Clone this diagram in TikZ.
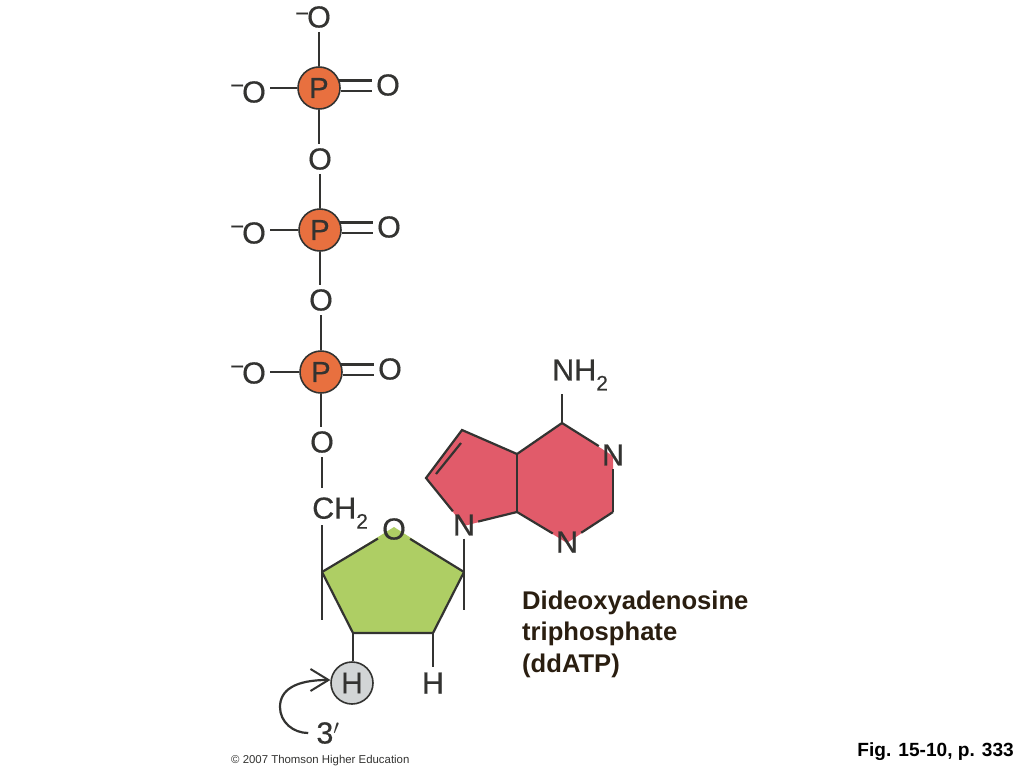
\documentclass[tikz,border=0pt]{standalone}
\usepackage{fontspec}
\setmainfont{Liberation Sans}
\newfontfamily\atomfont[FakeBold=0.4]{Liberation Sans}
\usepackage{tikz}
\usetikzlibrary{arrows.meta}
\definecolor{bondgray}{HTML}{333331}
\definecolor{phosorange}{HTML}{E8703F}
\definecolor{basered}{HTML}{E15B6A}
\definecolor{sugargreen}{HTML}{AECE64}
\definecolor{hgray}{HTML}{D2D5D6}
\definecolor{capbrown}{HTML}{2A1E10}
\tikzset{>=latex}
\tikzset{atom/.style={text=bondgray, inner sep=4pt, font=\atomfont\fontsize{30.5}{32}\selectfont}}
\tikzset{phos/.style={circle, draw=bondgray, line width=1.6pt, fill=phosorange, minimum size=42pt, inner sep=0pt, text=bondgray, font=\atomfont\fontsize{29}{32}\selectfont}}
\tikzset{bond/.style={draw=bondgray, line width=2.2pt}}
\tikzset{caption/.style={text=capbrown, align=left, anchor=west, inner sep=0pt, font=\fontsize{25.6}{31.5}\selectfont\bfseries}}
\newcommand{\negO}[1]{\llap{\raisebox{#1}{\fontsize{24}{24}\selectfont −\kern-2pt}}O}
\newcommand{\subtwo}{\raisebox{-10pt}{\fontsize{21}{21}\selectfont 2}}

\begin{document}
\begin{tikzpicture}[x=1pt, y=-1pt]
      \useasboundingbox (0,0) rectangle (1024,768);
      % ring fills first
      \coordinate (c1) at (322,572);
      \coordinate (c2) at (353,633);
      \coordinate (c3) at (433,633);
      \coordinate (c4) at (464,572);
      \coordinate (b1) at (462,430);
      \coordinate (b2) at (426,478);
      \coordinate (b3) at (517,454);
      \coordinate (b4) at (517,512);
      \coordinate (b5) at (562,423);
      \coordinate (b6) at (613,512);
      \fill[sugargreen] (c1) -- (394,527) -- (c4) -- (c3) -- (c2) -- cycle;
      \fill[basered] (b1) -- (b3) -- (b5) -- (613,456) -- (b6) -- (567,543) -- (b4) -- (464,526) -- (b2) -- cycle;
      % phosphate chain
      \node[atom] (otop) at (319,17) {\negO{6pt}};
      \node[phos] (p1) at (319,88) {P};
      \node[atom] (oa1) at (254,92) {\negO{9pt}};
      \node[atom] (od1) at (388,85) {O};
      \node[atom] (ob1) at (320,159) {O};
      \node[phos] (p2) at (320,230) {P};
      \node[atom] (oa2) at (254,233) {\negO{9pt}};
      \node[atom] (od2) at (389,227) {O};
      \node[atom] (ob2) at (321,300) {O};
      \node[phos] (p3) at (321,372) {P};
      \node[atom] (oa3) at (254,373) {\negO{9pt}};
      \node[atom] (od3) at (390,369) {O};
      \node[atom] (ob3) at (322,442) {O};
      \draw[bond] (otop) -- (p1);
      \draw[bond] (p1.west) -- (p1.west -| oa1.east);
      \draw[bond] (p1.20) -- (p1.20 -| od1.west);
      \draw[bond] (p1.-8) -- (p1.-8 -| od1.west);
      \draw[bond] (p1.south) -- (p1.south |- ob1.north);
      \draw[bond] (ob1) -- (p2);
      \draw[bond] (p2.west) -- (p2.west -| oa2.east);
      \draw[bond] (p2.20) -- (p2.20 -| od2.west);
      \draw[bond] (p2.-8) -- (p2.-8 -| od2.west);
      \draw[bond] (p2.south) -- (p2.south |- ob2.north);
      \draw[bond] (ob2) -- (p3);
      \draw[bond] (p3.west) -- (p3.west -| oa3.east);
      \draw[bond] (p3.20) -- (p3.20 -| od3.west);
      \draw[bond] (p3.-8) -- (p3.-8 -| od3.west);
      \draw[bond] (p3.south) -- (p3.south |- ob3.north);
      % sugar
      \node[atom, anchor=west, inner sep=0pt] (ch2) at (312,513) {CH\subtwo};
      \node[atom] (oring) at (394,529) {O};
      \node[atom, inner sep=5pt] (hright) at (433,683) {H};
      \node[circle, draw=bondgray, line width=1.6pt, fill=hgray, minimum size=42pt, inner sep=0pt, text=bondgray, font=\atomfont\fontsize{30}{32}\selectfont] (hcirc) at (352,683) {H};
      \node[atom, inner sep=8pt] (three) at (328,733) {3$'$};
      \coordinate (ch2dn) at (322,488);
      \coordinate (ch2lo) at (322,525);
      \coordinate (c1lo) at (322,620);
      \coordinate (c4lo) at (464,610);
      \draw[bond] (ob3) -- (ch2dn);
      \draw[bond] (ch2lo) -- (c1lo);
      \draw[bond] (c1) -- (oring);
      \draw[bond] (oring) -- (c4);
      \draw[bond] (c4) -- (c3) -- (c2) -- (c1);
      \draw[bond] (c2) -- (c2 |- hcirc.north);
      \draw[bond] (c3) -- (hright);
      \draw[bond] (c4) -- (c4lo);
      \draw[bond, -{Straight Barb[length=18pt, width=22pt, line width=2pt]}] (three.west) .. controls (293,733) and (280,722) .. (280,707) .. controls (280,690) and (295,680) .. (hcirc.172);
      % base
      \node[atom, inner sep=3pt] (n1) at (464,525) {N};
      \node[atom, inner sep=3pt] (n2) at (613,455) {N};
      \node[atom, inner sep=3pt] (n3) at (567,542) {N};
      \node[atom, inner sep=0pt, anchor=west] (nh2) at (552,375) {NH\subtwo};
      \coordinate (nh2lo) at (562,394);
      \coordinate (dbl1) at (436,474);
      \coordinate (dbl2) at (461,443);
      \draw[bond] (n1) -- (c4);
      \draw[bond] (n1) -- (b2) -- (b1) -- (b3);
      \draw[bond] (dbl1) -- (dbl2);
      \draw[bond] (b3) -- (b4);
      \draw[bond] (n1) -- (b4);
      \draw[bond] (b4) -- (n3);
      \draw[bond] (n3) -- (b6);
      \draw[bond] (b6) -- (n2);
      \draw[bond] (n2) -- (b5);
      \draw[bond] (b5) -- (b3);
      \draw[bond] (nh2lo) -- (b5);
      % labels
      \node[caption] (title) at (522,634) {Dideoxyadenosine\\triphosphate\\(ddATP)};
      \node[anchor=east, inner sep=0pt, font=\fontsize{19.1}{22}\selectfont\bfseries, text=black] (fig) at (1014,752) {Fig. 15-10, p. 333};
      \node[anchor=west, inner sep=0pt, font=\fontsize{11.4}{14}\selectfont, text=bondgray] (copy) at (231,761) {© 2007 Thomson Higher Education};
    \end{tikzpicture}
\end{document}
